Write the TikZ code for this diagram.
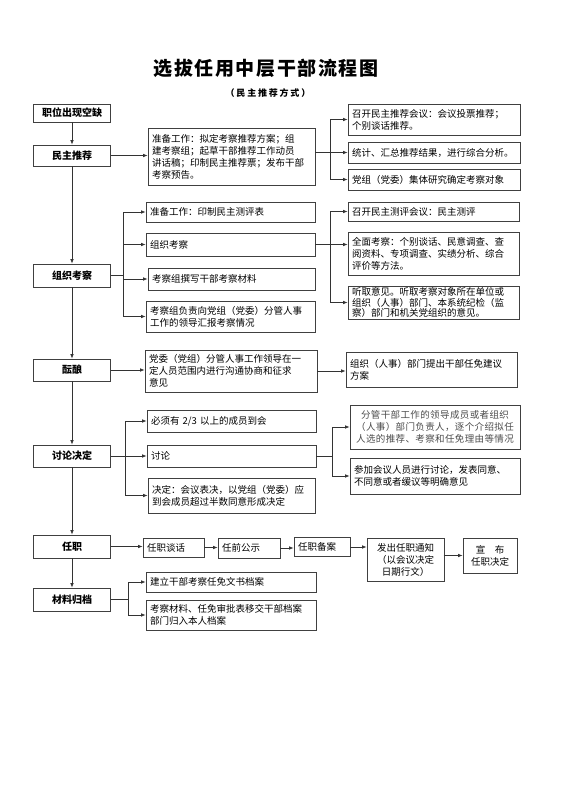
\documentclass[tikz,border=0pt]{standalone}
\usepackage{fontspec}
\usepackage{tikz}
\usetikzlibrary{arrows.meta}
\newfontfamily\cjk{Noto Sans CJK SC}

\begin{document}
\begin{tikzpicture}[x=1pt,y=-1pt,
	every node/.style={font=\cjk\fontsize{9.5}{12}\selectfont},
	stage/.style={draw=black!75, line width=0.8pt, minimum width=77pt, inner sep=2pt,
		font=\cjk\bfseries\fontsize{10}{12}\selectfont},
	item/.style={draw=black!75, line width=0.8pt, align=left, text width=#1,
		inner xsep=4pt, inner ysep=2pt},
	item/.default=162pt,
	link/.style={draw=black!80, line width=0.7pt},
	arr/.style={link, -{Latex[length=4.5pt,width=3.6pt]}}]
	\useasboundingbox (0,0) rectangle (560,792);

	% title
	\node[font=\cjk\bfseries\fontsize{19}{22}\selectfont\addfontfeature{LetterSpace=8}] (title) at (266,68) {选拔任用中层干部流程图};
	\node[font=\cjk\bfseries\fontsize{9}{11}\selectfont\addfontfeature{LetterSpace=20}] (subtitle) at (268,93) {（民主推荐方式）};

	% main column
	\node[stage, minimum height=18pt] (vac)  at (72,113)   {职位出现空缺};
	\node[stage, minimum height=21pt] (rec)  at (72,155.5) {民主推荐};
	\node[stage, minimum height=23pt] (insp) at (72,275.5) {组织考察};
	\node[stage, minimum height=22pt] (brew) at (72,370)   {酝酿};
	\node[stage, minimum height=22pt] (disc) at (72,456)   {讨论决定};
	\node[stage, minimum height=23pt] (appt) at (72,546.5) {任职};
	\node[stage, minimum height=23pt] (arch) at (72,599.5) {材料归档};

	\draw[arr] (vac) -- (rec);
	\draw[arr] (rec) -- (insp);
	\draw[arr] (insp) -- (brew);
	\draw[arr] (brew) -- (disc);
	\draw[arr] (disc) -- (appt);
	\draw[arr] (appt) -- (arch);

	% democratic recommendation
	\node[item=159pt, minimum height=57pt] (prep) at (231.5,156.5) {准备工作：拟定考察推荐方案；组\\建考察组；起草干部推荐工作动员\\讲话稿；印制民主推荐票；发布干部\\考察预告。};
	\node[item=164pt, minimum height=31pt] (r1) at (434,119.5) {召开民主推荐会议：会议投票推荐；\\个别谈话推荐。};
	\node[item=164pt, minimum height=21pt] (r2) at (434,152.5) {统计、汇总推荐结果，进行综合分析。};
	\node[item=164pt, minimum height=21pt] (r3) at (434,179.5) {党组（党委）集体研究确定考察对象};
	\coordinate (j1) at (330,152.5);

	\draw[arr] (rec.east) -- (prep.west |- rec.east);
	\draw[arr] (prep.east |- r2) -- (r2.west);
	\draw[arr] (j1) |- (r1.west);
	\draw[arr] (j1) |- (r3.west);

	% inspection
	\node[item=161pt, minimum height=20pt] (a1) at (230.5,212)   {准备工作：印制民主测评表};
	\node[item=161pt, minimum height=23pt] (a2) at (230.5,244.5) {组织考察};
	\node[item=159pt, minimum height=22pt] (a3) at (231.5,279)   {考察组撰写干部考察材料};
	\node[item=161pt, minimum height=31pt] (a4) at (230.5,316.5) {考察组负责向党组（党委）分管人事\\工作的领导汇报考察情况};
	\coordinate (j2) at (123,275.5);

	\draw[link] (insp.east) -- (j2);
	\draw[arr] (j2) |- (a1.west);
	\draw[arr] (j2) |- (a2.west);
	\draw[arr] (j2) |- (a3.west);
	\draw[arr] (j2) |- (a4.west);

	\node[item=163pt, minimum height=19pt] (s1) at (433.5,211.5) {召开民主测评会议：民主测评};
	\node[item=163pt, minimum height=43pt] (s2) at (433.5,253.5) {全面考察：个别谈话、民意调查、查\\阅资料、专项调查、实绩分析、综合\\评价等方法。};
	\node[item=163pt, minimum height=33pt, inner ysep=1pt, font=\cjk\fontsize{9.5}{10.5}\selectfont] (s3) at (433.5,302.5) {听取意见。听取考察对象所在单位或\\组织（人事）部门、本系统纪检（监\\察）部门和机关党组织的意见。};
	\coordinate (j3) at (330,244.5);

	\draw[link] (a2.east) -- (j3);
	\draw[arr] (j3) |- (s1.west);
	\draw[arr] (j3) -- (s2.west |- j3);
	\draw[arr] (j3) |- (s3.west);

	% deliberation
	\node[item=164pt, minimum height=42pt] (c1) at (231,371)     {党委（党组）分管人事工作领导在一\\定人员范围内进行沟通协商和征求\\意见};
	\node[item=163pt, minimum height=35pt] (c2) at (431.5,369.5) {组织（人事）部门提出干部任免建议\\方案};

	\draw[arr] (brew.east) -- (c1.west |- brew.east);
	\draw[arr] (c1.east) -- (c2.west |- c1.east);

	% discussion and decision
	\node[item=161pt, minimum height=22pt] (d1) at (231.5,421)   {必须有 2/3 以上的成员到会};
	\node[item=161pt, minimum height=22pt] (d2) at (231.5,456)   {讨论};
	\node[item=159pt, minimum height=35pt] (d3) at (231.5,495.5) {决定：会议表决，以党组（党委）应\\到会成员超过半数同意形成决定};
	\coordinate (j4) at (125,456);

	\draw[arr] (disc.east) -- (d2.west);
	\draw[arr] (j4) |- (d1.west);
	\draw[arr] (j4) |- (d3.west);

	\node[item=162pt, minimum height=44pt, align=center, text=black!70,
		font=\cjk\fontsize{9.5}{12}\selectfont\addfontfeature{LetterSpace=4}] (e1) at (435,427) {分管干部工作的领导成员或者组织\\（人事）部门负责人，逐个介绍拟任\\人选的推荐、考察和任免理由等情况};
	\node[item=162pt, minimum height=36pt] (e2) at (435,476) {参加会议人员进行讨论，发表同意、\\不同意或者缓议等明确意见};
	\coordinate (j5) at (332,456);

	\draw[link] (d2.east) -- (j5);
	\draw[arr] (j5) |- (e1.west);
	\draw[arr] (j5) |- (e2.west);

	% appointment
	\node[item=53pt, minimum height=19pt] (f1) at (173.5,547.5) {任职谈话};
	\node[item=54pt, minimum height=20pt] (f2) at (249,548)     {任前公示};
	\node[item=48pt, minimum height=19pt] (f3) at (322,547)     {任职备案};
	\node[item=69pt, minimum height=43pt, align=center] (f4) at (405.5,559.5) {发出任职通知\\（以会议决定\\日期行文）};
	\node[item=46pt, minimum height=35pt, align=center] (f5) at (490,555.5) {宣\quad 布\\任职决定};

	\draw[arr] (appt.east) -- (f1.west |- appt.east);
	\draw[arr] (f1.east) -- (f2.west |- f1.east);
	\draw[arr] (f2.east) -- (f3.west |- f2.east);
	\draw[arr] (f3.east) -- (f4.west |- f3.east);
	\draw[arr] (f4.west |- f5) ++(77,0) -- (f5.west);

	% filing
	\node[item=162pt, minimum height=20pt] (g1) at (231,582) {建立干部考察任免文书档案};
	\node[item=162pt, minimum height=30pt] (g2) at (231,615) {考察材料、任免审批表移交干部档案\\部门归入本人档案};
	\coordinate (j6) at (128,599.5);

	\draw[link] (arch.east) -- (j6);
	\draw[arr] (j6) |- (g1.west);
	\draw[arr] (j6) |- (g2.west);
\end{tikzpicture}
\end{document}
